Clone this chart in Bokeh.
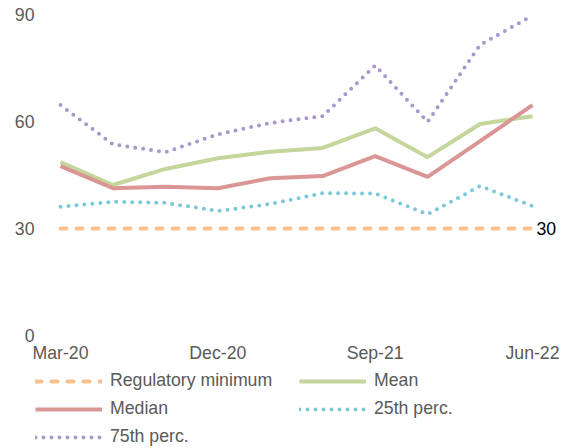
from bokeh.plotting import figure
from bokeh.models import Range1d, FixedTicker, Legend, LegendItem, ColumnDataSource
from bokeh.embed import file_html
from bokeh.resources import INLINE
from bokeh.core.properties import value

# ---- data ----
quarters = ["Mar-20", "Jun-20", "Sep-20", "Dec-20", "Mar-21", "Jun-21",
            "Sep-21", "Dec-21", "Mar-22", "Jun-22"]
reg_min = [30, 30, 30, 30, 30, 30, 30, 30, 30, 30]
mean = [48.6, 42.2, 46.7, 49.7, 51.5, 52.6, 58.1, 50.0, 59.3, 61.5]
median = [47.5, 41.3, 41.7, 41.3, 44.1, 44.7, 50.3, 44.5, 54.5, 64.6]
p25 = [36.1, 37.5, 37.2, 34.9, 36.9, 39.9, 39.8, 34.0, 41.9, 36.3]
p75 = [64.6, 53.6, 51.4, 56.4, 59.6, 61.5, 75.7, 59.9, 81.5, 89.7]
y_ticks = [0, 30, 60, 90]
x_tick_idx = [0, 3, 6, 9]

idx = list(range(len(quarters)))
FONT = "Liberation Sans"
GREY = "#595959"
FS = "17.7px"

# The frame covers the whole canvas; axes are placed inside it with fixed_location
x_lo, x_hi = -1.144, 9.610
y_lo, y_hi = -31.68, 93.93
y_axis_at = -0.458

p = figure(width=564, height=448, output_backend="svg", toolbar_location=None,
           x_range=Range1d(x_lo, x_hi), y_range=Range1d(y_lo, y_hi),
           min_border_left=0, min_border_right=0, min_border_top=0,
           min_border_bottom=0)
p.outline_line_color = None
p.background_fill_color = "white"
p.grid.visible = False

for ax in (p.xaxis[0], p.yaxis[0]):
    ax.axis_line_color = None
    ax.major_tick_line_color = None
    ax.minor_tick_line_color = None
    ax.major_tick_out = 0
    ax.major_tick_in = 0
    ax.major_label_text_font = FONT
    ax.major_label_text_font_size = FS
    ax.major_label_text_color = GREY

p.yaxis.ticker = FixedTicker(ticks=y_ticks)
p.yaxis.major_label_standoff = 2
p.yaxis.fixed_location = y_axis_at
p.xaxis.ticker = FixedTicker(ticks=x_tick_idx)
p.xaxis.major_label_overrides = {i: quarters[i] for i in x_tick_idx}
p.xaxis.major_label_standoff = 7
p.xaxis.fixed_location = 0

src = ColumnDataSource(dict(x=idx, reg=reg_min, mean=mean, median=median, p25=p25, p75=p75))

r_reg = p.line("x", "reg", source=src, line_color="#FAC090", line_width=4,
               line_dash="6 10", line_cap="round")
r_p25 = p.line("x", "p25", source=src, line_color="#7CC8DC", line_width=4,
               line_dash="0 8", line_cap="round")
r_p75 = p.line("x", "p75", source=src, line_color="#A898CC", line_width=4,
               line_dash="0 8", line_cap="round")
r_mean = p.line("x", "mean", source=src, line_color="#C3D69B", line_width=4)
r_med = p.line("x", "median", source=src, line_color="#D99694", line_width=4)

p.text(x=[idx[-1]], y=[reg_min[-1]], text=[str(reg_min[-1])], x_offset=4,
       text_font=value(FONT), text_font_size=FS, text_color="black",
       text_align="left", text_baseline="middle")

legend = Legend(items=[
    LegendItem(label="Regulatory minimum", renderers=[r_reg]),
    LegendItem(label="Mean", renderers=[r_mean]),
    LegendItem(label="Median", renderers=[r_med]),
    LegendItem(label="25th perc.", renderers=[r_p25]),
    LegendItem(label="75th perc.", renderers=[r_p75]),
], location=(35, 1), orientation="horizontal", ncols=2)
legend.background_fill_alpha = 0
legend.border_line_alpha = 0
legend.padding = 0
legend.margin = 0
legend.glyph_width = 67
legend.glyph_height = 20
legend.label_height = 20
legend.label_width = 182
legend.label_standoff = 8
legend.spacing = 7
legend.label_text_font = FONT
legend.label_text_font_size = FS
legend.label_text_color = GREY
p.add_layout(legend, "center")

open("out.html", "w").write(file_html(p, INLINE))
